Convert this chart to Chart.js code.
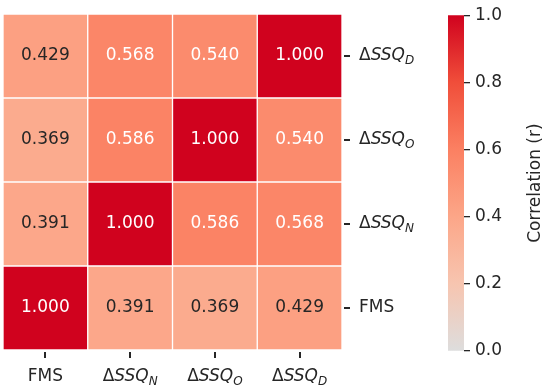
<!DOCTYPE html>
<html>
<head>
<meta charset="utf-8">
<script src="https://cdn.jsdelivr.net/npm/chart.js@4"></script>
<style>
  html, body { margin: 0; padding: 0; background: #fff; }
  #wrap { position: relative; width: 550px; height: 392px; }
  #heat { position: absolute; left: 0; top: 0; }
  #cbar { position: absolute; left: 440px; top: 0; }
</style>
</head>
<body>
<div id="wrap">
  <canvas id="heat" width="440" height="392"></canvas>
  <canvas id="cbar" width="110" height="392"></canvas>
</div>
<script>
// ---- data ----
// labels: [main text, subscript]
const colLabels = [['FMS', ''], ['ΔSSQ', 'N'], ['ΔSSQ', 'O'], ['ΔSSQ', 'D']];
// rows from bottom to top
const rowLabels = [['FMS', ''], ['ΔSSQ', 'N'], ['ΔSSQ', 'O'], ['ΔSSQ', 'D']];
const rowFMS  = [1.000, 0.391, 0.369, 0.429];
const rowSSQN = [0.391, 1.000, 0.586, 0.568];
const rowSSQO = [0.369, 0.586, 1.000, 0.540];
const rowSSQD = [0.429, 0.568, 0.540, 1.000];
const rows = [rowFMS, rowSSQN, rowSSQO, rowSSQD];
const colorbarTicks = [0, 0.2, 0.4, 0.6, 0.8, 1.0];

// colour map (grey -> red)
const cmapStops = [
  [0.0, [221, 221, 221]],
  [0.2, [247, 197, 176]],
  [0.4, [252, 166, 136]],
  [0.6, [251, 128, 98]],
  [0.8, [240, 78, 58]],
  [1.0, [208, 2, 30]]
];

function cmap(v) {
  for (let i = 1; i < cmapStops.length; i++) {
    const [p1, c1] = cmapStops[i];
    const [p0, c0] = cmapStops[i - 1];
    if (v <= p1) {
      const t = (v - p0) / (p1 - p0);
      const c = c0.map((x, k) => Math.round(x + (c1[k] - x) * t));
      return `rgb(${c[0]},${c[1]},${c[2]})`;
    }
  }
  const c = cmapStops[cmapStops.length - 1][1];
  return `rgb(${c[0]},${c[1]},${c[2]})`;
}

const FONT = '"DejaVu Sans", sans-serif';
const TEXT = '#262626';

// draws "ΔSSQ" with italic SSQ and a subscript; align: 'left' or 'center'
function drawLabel(ctx, lab, x, y, align) {
  const size = 17;
  const [main, sub] = lab;
  const parts = [];
  if (main.startsWith('Δ')) {
    parts.push({ t: 'Δ', f: `${size}px ${FONT}`, dy: 0 });
    parts.push({ t: main.slice(1), f: `italic ${size}px ${FONT}`, dy: 0 });
  } else {
    parts.push({ t: main, f: `${size}px ${FONT}`, dy: 0 });
  }
  if (sub) parts.push({ t: sub, f: `italic ${Math.round(size * 0.7)}px ${FONT}`, dy: size * 0.3 });
  let w = 0;
  parts.forEach(p => { ctx.font = p.f; p.w = ctx.measureText(p.t).width; w += p.w; });
  let cx = align === 'center' ? x - w / 2 : x;
  ctx.fillStyle = TEXT;
  ctx.textAlign = 'left';
  ctx.textBaseline = 'middle';
  parts.forEach(p => {
    ctx.font = p.f;
    ctx.fillText(p.t, cx, y + p.dy);
    cx += p.w;
  });
}

const heatLabels = {
  id: 'heatLabels',
  afterDraw(chart) {
    const ctx = chart.ctx;
    const xs = chart.scales.x, ys = chart.scales.y;
    const area = chart.chartArea;
    ctx.save();
    // cell values
    chart.data.datasets.forEach((ds, di) => {
      const meta = chart.getDatasetMeta(di);
      meta.data.forEach((bar, i) => {
        const v = ds.values[i];
        const yc = (bar.y + bar.base) / 2;
        ctx.font = `17px ${FONT}`;
        ctx.textAlign = 'center';
        ctx.textBaseline = 'middle';
        ctx.fillStyle = v > 0.5 ? '#ffffff' : TEXT;
        ctx.fillText(v.toFixed(3), bar.x, yc);
      });
    });
    // tick marks
    ctx.fillStyle = TEXT;
    colLabels.forEach((lab, i) => {
      const x = Math.round(xs.getPixelForValue(i));
      ctx.fillRect(x - 1, area.bottom + 2, 2, 6);
    });
    rowLabels.forEach((lab, i) => {
      const y = Math.round(ys.getPixelForValue(i + 0.5));
      ctx.fillRect(area.right + 2, y - 1, 6, 2);
    });
    // axis labels
    colLabels.forEach((lab, i) => {
      drawLabel(ctx, lab, xs.getPixelForValue(i), 377, 'center');
    });
    rowLabels.forEach((lab, i) => {
      drawLabel(ctx, lab, area.right + 17, ys.getPixelForValue(i + 0.5), 'left');
    });
    ctx.restore();
  }
};

new Chart(document.getElementById('heat'), {
  type: 'bar',
  data: {
    labels: colLabels.map(l => l[0] + l[1]),
    datasets: rows.map(r => ({
      data: r.map(() => 1),
      values: r,
      backgroundColor: r.map(cmap),
      borderColor: '#ffffff',
      borderWidth: 1,
      borderSkipped: false,
      categoryPercentage: 1,
      barPercentage: 1
    }))
  },
  options: {
    responsive: false,
    animation: false,
    events: [],
    layout: { padding: { left: 3, top: 14, right: 0, bottom: 0 } },
    plugins: { legend: { display: false }, tooltip: { enabled: false } },
    scales: {
      x: {
        stacked: true,
        border: { display: false },
        grid: { display: false },
        ticks: { display: false },
        afterFit(s) { s.height = 42; }
      },
      y: {
        stacked: true,
        position: 'right',
        min: 0,
        max: 4,
        border: { display: false },
        grid: { display: false },
        ticks: { display: false },
        afterBuildTicks(s) { s.ticks = [0.5, 1.5, 2.5, 3.5].map(v => ({ value: v })); },
        afterFit(s) { s.width = 98; }
      }
    }
  },
  plugins: [heatLabels]
});

// ---- colour bar ----
const cbarTitle = {
  id: 'cbarTitle',
  afterDraw(chart) {
    const ctx = chart.ctx;
    const a = chart.chartArea;
    ctx.save();
    ctx.translate(96, (a.top + a.bottom) / 2);
    ctx.rotate(-Math.PI / 2);
    ctx.font = `17px ${FONT}`;
    ctx.fillStyle = TEXT;
    ctx.textAlign = 'center';
    ctx.textBaseline = 'middle';
    ctx.fillText('Correlation (r)', 0, 0);
    ctx.restore();
  }
};

new Chart(document.getElementById('cbar'), {
  type: 'bar',
  data: {
    labels: [''],
    datasets: [{
      data: [1],
      categoryPercentage: 1,
      barPercentage: 1,
      borderWidth: 0,
      backgroundColor(c) {
        const a = c.chart.chartArea;
        if (!a) return cmap(0.5);
        const g = c.chart.ctx.createLinearGradient(0, a.bottom, 0, a.top);
        cmapStops.forEach(([p]) => g.addColorStop(p, cmap(p)));
        return g;
      }
    }]
  },
  options: {
    responsive: false,
    animation: false,
    events: [],
    layout: { padding: { left: 8, top: 13, right: 0, bottom: 41 } },
    plugins: { legend: { display: false }, tooltip: { enabled: false } },
    scales: {
      x: { display: false },
      y: {
        position: 'right',
        min: 0,
        max: 1,
        border: { display: false },
        grid: { drawOnChartArea: false, drawTicks: true, tickLength: 6, color: TEXT, lineWidth: 1.3 },
        ticks: {
          padding: 5,
          color: TEXT,
          font: { size: 17, family: FONT },
          callback: (v) => v.toFixed(1)
        },
        afterBuildTicks(s) { s.ticks = colorbarTicks.map(v => ({ value: v })); },
        afterFit(s) { s.width = 86; }
      }
    }
  },
  plugins: [cbarTitle]
});
</script>
</body>
</html>
